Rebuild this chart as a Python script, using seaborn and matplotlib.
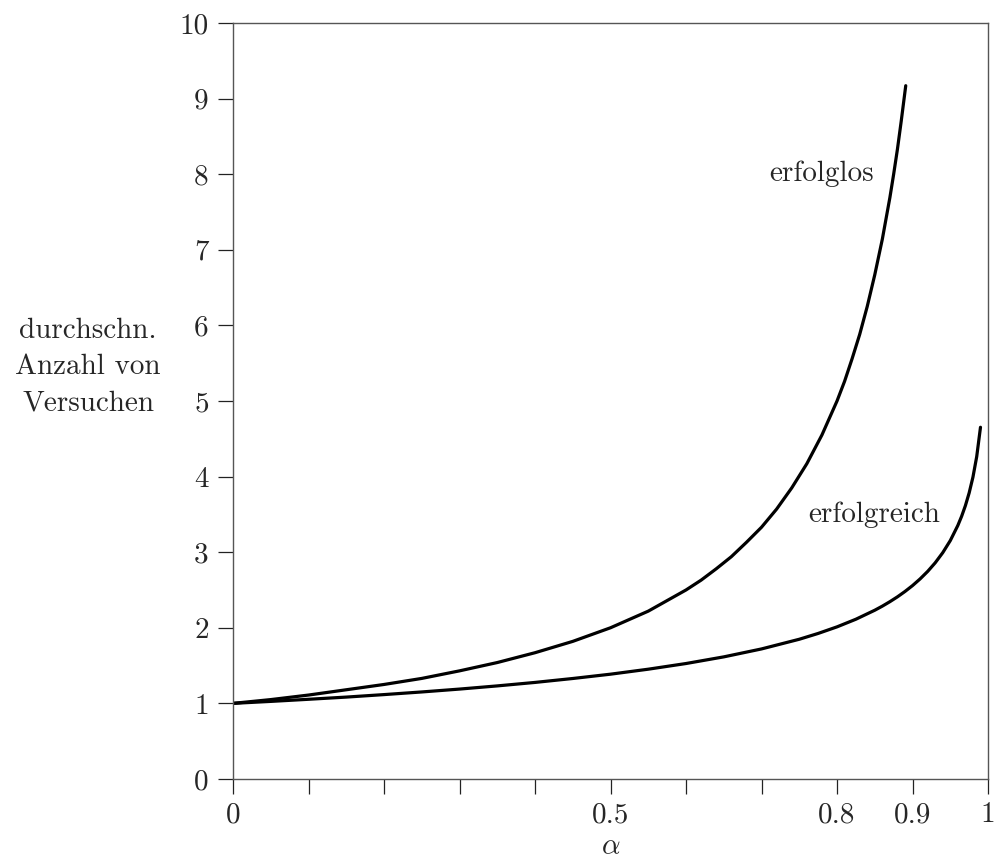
import numpy as np
import pandas as pd
import seaborn as sns
import matplotlib.pyplot as plt

# values
alpha_fail = [0.0, 0.05, 0.1, 0.15, 0.2, 0.25, 0.3, 0.35, 0.4, 0.45, 0.5, 0.55,
              0.6, 0.62, 0.64, 0.66, 0.68, 0.7, 0.72, 0.74, 0.76, 0.78, 0.8,
              0.81, 0.82, 0.83, 0.84, 0.85, 0.86, 0.87, 0.875, 0.88, 0.885, 0.891]
tries_fail = [1.00, 1.05, 1.11, 1.18, 1.25, 1.33, 1.43, 1.54, 1.67, 1.82, 2.00, 2.22,
              2.50, 2.63, 2.78, 2.94, 3.13, 3.33, 3.57, 3.85, 4.17, 4.55, 5.00,
              5.26, 5.56, 5.88, 6.25, 6.67, 7.14, 7.69, 8.00, 8.33, 8.70, 9.17]

alpha_ok = [0.0, 0.05, 0.1, 0.15, 0.2, 0.25, 0.3, 0.35, 0.4, 0.45, 0.5, 0.55, 0.6,
            0.65, 0.7, 0.75, 0.775, 0.8, 0.825, 0.85, 0.86, 0.87, 0.88, 0.89, 0.9,
            0.91, 0.92, 0.93, 0.94, 0.95, 0.96, 0.965, 0.97, 0.975, 0.98, 0.985, 0.99]
tries_ok = [1.00, 1.026, 1.054, 1.083, 1.116, 1.151, 1.189, 1.231, 1.277, 1.329, 1.386,
            1.452, 1.527, 1.615, 1.720, 1.848, 1.925, 2.012, 2.113, 2.232, 2.286,
            2.345, 2.409, 2.480, 2.558, 2.646, 2.745, 2.859, 2.993, 3.153, 3.353,
            3.474, 3.615, 3.784, 3.992, 4.264, 4.652]

x_ticks = [0, 0.1, 0.2, 0.3, 0.4, 0.5, 0.6, 0.7, 0.8, 0.9, 1.0]
x_labels = ['0', '', '', '', '', '0.5', '', '', '0.8', '0.9', '1']
y_ticks = list(range(0, 11))

df_fail = pd.DataFrame({'alpha': alpha_fail, 'tries': tries_fail})
df_ok = pd.DataFrame({'alpha': alpha_ok, 'tries': tries_ok})

sns.set_theme(style='white')
plt.rcParams['font.family'] = ['cmr10', 'DejaVu Serif']
plt.rcParams['mathtext.fontset'] = 'cm'
plt.rcParams['axes.formatter.use_mathtext'] = True

fig = plt.figure(figsize=(9.95, 8.66), dpi=100)
ax = fig.add_axes([0.2342, 0.1005, 0.7588, 0.873])

sns.lineplot(data=df_fail, x='alpha', y='tries', ax=ax, color='black', lw=2.3)
sns.lineplot(data=df_ok, x='alpha', y='tries', ax=ax, color='black', lw=2.3)

ax.set_xlim(0, 1)
ax.set_ylim(0, 10)
ax.set_xticks(x_ticks)
ax.set_xticklabels(x_labels)
ax.set_yticks(y_ticks)
ax.set_yticklabels([str(v) for v in y_ticks])
ax.tick_params(axis='both', direction='out', length=10.5, width=0.9,
               color='#222222', labelsize=21, bottom=True, left=True)
ax.tick_params(axis='x', pad=6)
ax.tick_params(axis='y', pad=7)

for s in ax.spines.values():
    s.set_color('#555555')
    s.set_linewidth(1.0)

ax.set_xlabel(r'$\alpha$', fontsize=21, labelpad=4)
ax.set_ylabel('durchschn.\nAnzahl von\nVersuchen', fontsize=21, rotation=0,
              ha='center', va='center', linespacing=1.5)
ax.yaxis.set_label_coords(-0.192, 0.545)

ax.text(0.78, 8.0, 'erfolglos', fontsize=21, ha='center', va='center')
ax.text(0.849, 3.49, 'erfolgreich', fontsize=21, ha='center', va='center')

fig.savefig('out.png', dpi=100, facecolor='white')
